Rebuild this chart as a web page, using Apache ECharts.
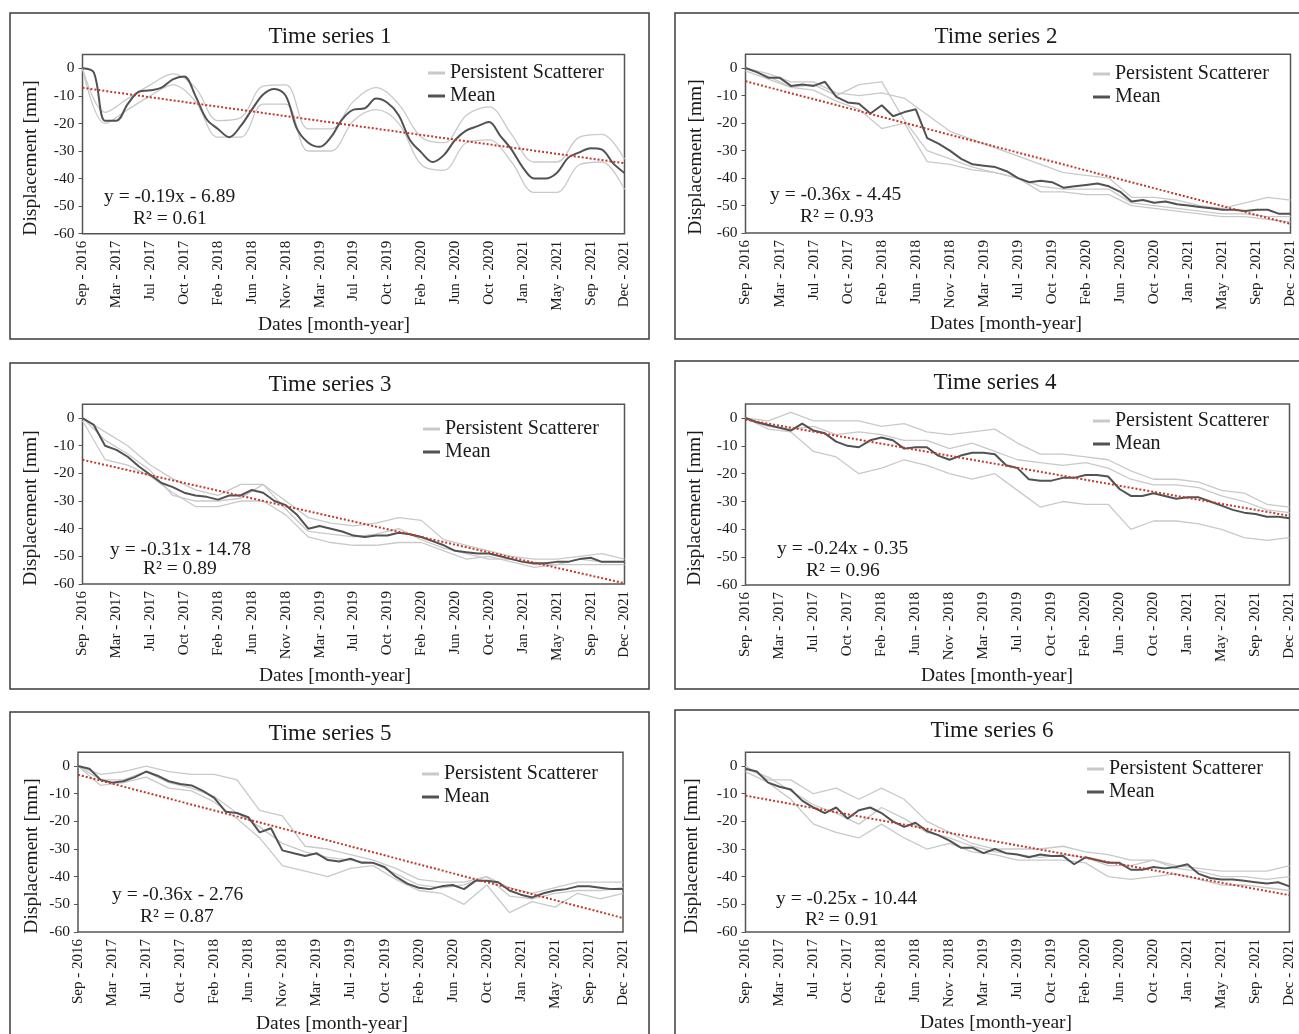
<!DOCTYPE html>
<html>
<head>
<meta charset="utf-8">
<title>Time series 1-6</title>
<script src="https://cdn.jsdelivr.net/npm/echarts@6.0.0/dist/echarts.min.js"></script>
<style>
  html, body { margin: 0; padding: 0; background: #fff; overflow: hidden; }
  #chart { width: 1299px; height: 1034px; }
</style>
</head>
<body>
<div id="chart"></div>
<script>
// x tick labels, one every 9 acquisitions
const dateLabels = ['Sep - 2016', 'Mar - 2017', 'Jul - 2017', 'Oct - 2017', 'Feb - 2018', 'Jun - 2018',
  'Nov - 2018', 'Mar - 2019', 'Jul - 2019', 'Oct - 2019', 'Feb - 2020', 'Jun - 2020', 'Oct - 2020',
  'Jan - 2021', 'May - 2021', 'Sep - 2021', 'Dec - 2021']
const yTicks = [-60, -50, -40, -30, -20, -10, 0]

// acquisition index of the sampled points
const meanX = [0, 3, 6, 9, 12, 15, 18, 21, 24, 27, 30, 33, 36, 39, 42, 45, 48, 51, 54, 57, 60, 63, 66, 69, 72,
  75, 78, 81, 84, 87, 90, 93, 96, 99, 102, 105, 108, 111, 114, 117, 120, 123, 126, 129, 132, 135, 138, 141, 144]
const psX = [0, 6, 12, 18, 24, 30, 36, 42, 48, 54, 60, 66, 72, 78, 84, 90, 96, 102, 108, 114, 120, 126, 132, 138, 144]

// mean displacement [mm]
const mean1 = [0, -1.5, -19, -19, -13, -8.5, -8, -7, -4, -3, -10, -18.5, -22, -25, -21, -15, -9.5, -7.5, -10, -22,
  -27, -28.5, -25, -18.5, -15, -14.5, -11, -12.5, -17, -26, -30.5, -34, -31.5, -26, -22.5, -21, -19.5, -24.5, -29.5,
  -36, -40, -40, -38, -32.5, -30.5, -29, -29.5, -34.5, -38]
const mean2 = [0, -1.5, -3.5, -3.5, -6.5, -6, -6.5, -5, -10.5, -12.5, -13, -16.5, -13.5, -17.5, -16, -15, -25.5,
  -27.5, -30, -33, -35, -35.5, -36, -37.5, -40, -41.5, -41, -41.5, -43.5, -43, -42.5, -42, -43, -45, -48.5, -48, -49,
  -48.5, -49.5, -50, -50.5, -51, -51.5, -51.5, -52, -51.5, -51.5, -53, -53]
const mean3 = [0, -2.5, -10, -11.5, -14, -17.5, -20.5, -23.5, -25, -27, -28, -28.5, -29.5, -28, -28, -26, -27, -30,
  -31.5, -35, -40, -39, -40, -41, -42.5, -43, -42.5, -42.5, -41.5, -42, -43, -44.5, -46, -48, -48.5, -49, -49, -50,
  -51, -52, -52.5, -52.5, -52, -52, -51, -50.5, -52, -52, -52]
const mean4 = [0, -1.5, -2.5, -3.5, -4.5, -2, -4.5, -5.5, -8.5, -10, -10.5, -8, -7, -8, -11, -10.5, -10.5, -13.5,
  -15, -13.5, -12.5, -12.5, -13, -17, -18, -22, -22.5, -22.5, -21.5, -21.5, -20.5, -20.5, -21, -25.5, -28, -28, -27,
  -28, -29, -28.5, -28.5, -30, -31.5, -33, -34, -34.5, -35.5, -35.5, -36]
const mean5 = [0, -1, -5, -6, -5.5, -4, -2, -3.5, -5.5, -6.5, -7, -9, -11.5, -16.5, -17, -18.5, -24, -22.5, -30.5,
  -31.5, -32.5, -31.5, -34, -34.5, -33.5, -35, -35, -36.5, -40, -42.5, -44, -44.5, -43.5, -43, -44.5, -41.5, -41.5,
  -42, -45, -46.5, -47.5, -46, -45, -44.5, -43.5, -43.5, -44, -44.5, -44.5]
const mean6 = [-1, -2, -6, -7.5, -8.5, -12.5, -15, -17, -15, -19, -16, -15, -17, -20, -22, -20.5, -23.5, -25, -27,
  -29.5, -29.5, -31.5, -30, -31.5, -32, -33, -32, -32.5, -32.5, -35.5, -33, -34, -35, -35, -37.5, -37.5, -36.5, -37,
  -36.5, -35.5, -39, -40.5, -41, -41, -41.5, -42, -42.5, -42, -43.5]

// single persistent scatterers [mm]
const ps1a = [0, -16, -11, -6, -2, -7, -19, -18, -6.5, -6, -22, -22, -12, -7, -13, -25, -27, -17, -14, -24, -34, -34, -25, -24, -33]
const ps1b = [0, -20, -15, -10, -6, -12, -25, -25, -13, -13, -30, -30, -19, -15, -20, -35, -37, -27, -26, -34, -45, -45, -35, -34, -44]
const ps2a = [0, -2, -5, -5, -9, -10, -9, -11, -17, -23, -26, -29, -32, -35, -38, -39, -40, -47, -47, -48, -50, -51, -49, -47, -48]
const ps2b = [-1, -4, -7, -8, -12, -15, -22, -20, -34, -35, -37, -38, -40, -45, -45, -46, -46, -50, -51, -52, -53, -54, -54, -55, -56]
const ps2c = [0, -3, -7, -6, -10, -6, -5, -19, -30, -33, -36, -38, -40, -43, -44, -44, -44, -49, -50, -51, -52, -53, -53, -54, -54]
const ps3a = [0, -5, -10, -17, -22, -26, -28, -24, -24, -30, -36, -38, -39, -38, -36, -37, -44, -46, -48, -50, -51, -51, -50, -49, -51]
const ps3b = [-1, -15, -17, -21, -27, -32, -32, -30, -30, -35, -43, -45, -46, -46, -45, -45, -48, -51, -50, -52, -54, -53, -53, -53, -53]
const ps3c = [0, -8, -13, -19, -28, -30, -30, -29, -24, -33, -41, -42, -43, -42, -40, -44, -47, -49, -51, -51, -53, -53, -51, -52, -52]
const ps4a = [0, -1, 2, -1, -1, -1, -3, -2, -5, -6, -5, -4, -9, -13, -13, -14, -15, -19, -22, -22, -23, -26, -27, -31, -32]
const ps4b = [0, -4, -5, -12, -14, -20, -18, -15, -17, -20, -22, -20, -26, -32, -30, -31, -31, -40, -37, -37, -38, -40, -43, -44, -43]
const ps4c = [0, -3, -4, -3, -6, -5, -6, -8, -8, -11, -9, -12, -15, -16, -17, -16, -18, -22, -24, -24, -25, -28, -30, -33, -34]
const ps5a = [0, -3, -2, 0, -2, -3, -3, -5, -16, -18, -29, -30, -32, -34, -37, -41, -42, -42, -40, -44, -46, -44, -42, -42, -42]
const ps5b = [0, -7, -6, -4, -8, -9, -13, -19, -26, -36, -38, -40, -37, -36, -41, -45, -46, -50, -43, -53, -49, -51, -46, -48, -46]
const ps5c = [0, -5, -5, -2, -6, -8, -11, -17, -22, -28, -31, -33, -34, -35, -39, -43, -44, -43, -40, -47, -48, -46, -45, -45, -44]
const ps6a = [0, -5, -5, -10, -8, -12, -8, -12, -20, -24, -28, -30, -30, -30, -29, -31, -32, -34, -34, -36, -37, -38, -38, -38, -36]
const ps6b = [-2, -6, -12, -21, -24, -26, -21, -26, -30, -28, -31, -32, -34, -34, -34, -35, -40, -41, -40, -39, -41, -43, -43, -44, -45]
const ps6c = [-1, -4, -9, -14, -17, -21, -15, -19, -24, -26, -29, -31, -32, -33, -32, -33, -36, -36, -34, -37, -38, -40, -40, -41, -40]

// linear trend, value at first and last acquisition
const trendStart = [-7.08, -4.81, -15.09, -0.59, -3.12, -10.69]
const trendEnd = [-34.44, -56.65, -59.73, -35.15, -54.96, -46.69]
const equations = ['y = -0.19x - 6.89', 'y = -0.36x - 4.45', 'y = -0.31x - 14.78', 'y = -0.24x - 0.35', 'y = -0.36x - 2.76', 'y = -0.25x - 10.44']
const rSquared = ['R² = 0.61', 'R² = 0.93', 'R² = 0.89', 'R² = 0.96', 'R² = 0.87', 'R² = 0.91']

const means = [mean1, mean2, mean3, mean4, mean5, mean6]
const scatterers = [[ps1a, ps1b], [ps2a, ps2b, ps2c], [ps3a, ps3b, ps3c], [ps4a, ps4b, ps4c], [ps5a, ps5b, ps5c], [ps6a, ps6b, ps6c]]

// page layout of each panel (px); series 1 is a smooth seasonal curve
const panels = [
  { box: [10, 13, 639, 326], grid: [82.5, 54.5, 542, 179.2], title: [330, 37], xName: [334, 325], yName: [31, 158], legend: [428, 63], eq: [104, 197], r2: [133, 219], smooth: 0.35 },
  { box: [675, 13, 640, 326], grid: [745.5, 54.3, 545, 178.8], title: [996, 37], xName: [1006, 324], yName: [696, 157], legend: [1093, 64], eq: [770, 195], r2: [800, 217], smooth: false },
  { box: [10, 363, 639, 326], grid: [82.5, 404.2, 542, 179.8], title: [330, 385], xName: [335, 676], yName: [31, 508], legend: [423, 419], eq: [110, 550], r2: [143, 569], smooth: false },
  { box: [675, 361, 640, 328], grid: [745.5, 404.1, 544, 180.9], title: [995, 383], xName: [997, 676], yName: [695, 508], legend: [1093, 411], eq: [777, 549], r2: [806, 571], smooth: false },
  { box: [10, 712, 639, 340], grid: [78, 752.2, 545, 179.8], title: [330, 734], xName: [332, 1024], yName: [32, 856], legend: [422, 764], eq: [112, 895], r2: [140, 917], smooth: false },
  { box: [675, 710, 640, 340], grid: [745.5, 752.2, 544, 179.8], title: [992, 731], xName: [996, 1023], yName: [692, 856], legend: [1087, 759], eq: [776, 899], r2: [805, 920], smooth: false }
]

const FONT = '"Liberation Serif", "Times New Roman", serif'
const TEXT = '#1a1a1a'

function pairs(xs, ys) {
  return xs.map((x, i) => [x, ys[i]])
}

function text(str, x, y, size, align, opts) {
  return Object.assign({
    type: 'text',
    x: x,
    y: y,
    silent: true,
    style: {
      text: str,
      fontSize: size,
      fontFamily: FONT,
      fill: TEXT,
      align: align,
      verticalAlign: 'middle',
      textAlign: align,
      textVerticalAlign: 'middle'
    }
  }, opts || {})
}

const option = {
  animation: false,
  backgroundColor: '#fff',
  grid: [],
  xAxis: [],
  yAxis: [],
  legend: [],
  series: [],
  graphic: []
}

panels.forEach((p, k) => {
  option.grid.push({
    left: p.grid[0],
    top: p.grid[1],
    width: p.grid[2],
    height: p.grid[3],
    show: true,
    borderColor: '#555',
    borderWidth: 1.5,
    outerBoundsMode: 'none'
  })
  option.xAxis.push({
    type: 'value',
    gridIndex: k,
    min: 0,
    max: 144,
    interval: 9,
    axisLine: { show: false },
    axisTick: { show: false },
    splitLine: { show: false },
    axisLabel: {
      rotate: 90,
      margin: 7,
      fontSize: 15,
      fontFamily: FONT,
      color: TEXT,
      formatter: v => dateLabels[Math.round(v / 9)]
    }
  })
  option.yAxis.push({
    type: 'value',
    gridIndex: k,
    min: -60,
    max: 5,
    interval: 10,
    axisLine: { show: false },
    axisTick: { show: true, length: 4, customValues: yTicks, lineStyle: { color: '#555' } },
    splitLine: { show: false },
    axisLabel: {
      showMaxLabel: false,
      margin: 8,
      fontSize: 15.5,
      fontFamily: FONT,
      color: TEXT
    }
  })
  option.legend.push({
    data: ['Persistent Scatterer', 'Mean'],
    orient: 'vertical',
    left: p.legend[0],
    top: p.legend[1],
    padding: 0,
    itemGap: 3,
    itemWidth: 17,
    itemHeight: 3,
    icon: 'rect',
    selectedMode: false,
    textStyle: { fontSize: 20, lineHeight: 20, fontFamily: FONT, color: TEXT }
  })

  scatterers[k].forEach(ps => {
    option.series.push({
      type: 'line',
      name: 'Persistent Scatterer',
      xAxisIndex: k,
      yAxisIndex: k,
      data: pairs(psX, ps),
      symbol: 'none',
      smooth: p.smooth,
      silent: true,
      z: 2,
      itemStyle: { color: '#c9c9c9' },
      lineStyle: { color: '#c9c9c9', width: 1.3 }
    })
  })
  option.series.push({
    type: 'line',
    name: 'Mean',
    xAxisIndex: k,
    yAxisIndex: k,
    data: pairs(meanX, means[k]),
    symbol: 'none',
    smooth: p.smooth,
    silent: true,
    z: 3,
    itemStyle: { color: '#525252' },
    lineStyle: { color: '#525252', width: 2 }
  })
  option.series.push({
    type: 'line',
    name: 'Trend',
    xAxisIndex: k,
    yAxisIndex: k,
    data: [[0, trendStart[k]], [144, trendEnd[k]]],
    symbol: 'none',
    silent: true,
    z: 4,
    itemStyle: { color: '#c0392b' },
    lineStyle: { color: '#c0392b', width: 2, type: 'dotted' }
  })

  option.graphic.push({
    type: 'rect',
    silent: true,
    shape: { x: p.box[0], y: p.box[1], width: p.box[2], height: p.box[3] },
    style: { fill: 'none', stroke: '#3c3c3c', lineWidth: 1.5 }
  })
  option.graphic.push(text('Time series ' + (k + 1), p.title[0], p.title[1], 23, 'center'))
  option.graphic.push(text('Dates [month-year]', p.xName[0], p.xName[1], 19.5, 'center'))
  option.graphic.push(text('Displacement [mm]', p.yName[0], p.yName[1], 19.5, 'center', { rotation: Math.PI / 2 }))
  option.graphic.push(text(equations[k], p.eq[0], p.eq[1], 19.5, 'left'))
  option.graphic.push(text(rSquared[k], p.r2[0], p.r2[1], 19.5, 'left'))
})

const chart = echarts.init(document.getElementById('chart'), null, { renderer: 'canvas' })
chart.setOption(option)
</script>
</body>
</html>
